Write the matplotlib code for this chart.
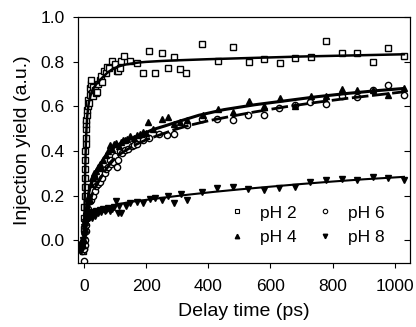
import matplotlib
matplotlib.use('Agg')
import matplotlib.pyplot as plt
from matplotlib.lines import Line2D

plt.rcParams['font.family'] = ['Liberation Sans', 'DejaVu Sans']

# measured points (delay time in ps, injection yield in a.u.)
t_ph2 = [-10, -6, -3, -1, 0, 0.5, 1, 1.5, 2, 2.5, 3, 3.5, 4, 4.5, 5, 5.5, 6, 7, 8, 9,
         10, 12, 14, 16, 18, 20, 22, 24, 26, 28, 30, 34, 38, 42, 46, 50, 54, 58, 64, 70,
         74, 80, 90, 99, 106, 110, 115, 119, 128, 148, 169, 190, 209, 230, 250, 269, 289, 309, 328, 380,
         430, 480, 530, 580, 630, 680, 730, 780, 830, 880, 930, 980, 1030]
y_ph2 = [-0.02, -0.04, -0.05, -0.03, 0.0, 0.05, 0.1, 0.15, 0.2, 0.24, 0.28, 0.32, 0.36, 0.40, 0.43, 0.46, 0.50, 0.52, 0.54, 0.56,
         0.585, 0.6, 0.629, 0.615, 0.68, 0.65, 0.70, 0.716, 0.66, 0.686, 0.644, 0.674, 0.66, 0.662, 0.70, 0.72, 0.737, 0.71, 0.76, 0.75,
         0.774, 0.77, 0.805, 0.789, 0.76, 0.76, 0.771, 0.805, 0.826, 0.804, 0.793, 0.75, 0.848, 0.749, 0.839, 0.771, 0.823, 0.765, 0.747, 0.879,
         0.805, 0.867, 0.80, 0.814, 0.796, 0.816, 0.823, 0.892, 0.841, 0.838, 0.80, 0.86, 0.826]

t_ph4 = [-10, -5, -2, 0, 2, 4, 6, 8, 10, 13, 16, 18, 22, 26, 29, 31, 35, 40, 45, 50,
         56, 62, 70, 77, 83, 90, 97, 104, 112, 120, 126, 131, 140, 147, 160, 169, 180, 190, 201, 206,
         222, 250, 271, 290, 310, 330, 382, 430, 480, 530, 580, 630, 680, 730, 780, 830, 880, 930, 980, 1030]
y_ph4 = [-0.01, 0.0, -0.02, 0.0, 0.05, 0.08, 0.11, 0.13, 0.15, 0.19, 0.2, 0.18, 0.25, 0.28, 0.28, 0.3, 0.29, 0.31, 0.33, 0.34,
         0.325, 0.36, 0.38, 0.4, 0.425, 0.41, 0.43, 0.436, 0.42, 0.44, 0.45, 0.45, 0.455, 0.466, 0.46, 0.47, 0.475, 0.485, 0.48, 0.528,
         0.5, 0.545, 0.55, 0.52, 0.53, 0.54, 0.562, 0.59, 0.575, 0.625, 0.6, 0.637, 0.6, 0.644, 0.645, 0.678, 0.674, 0.672, 0.649, 0.684]

t_ph6 = [-10, -5, -1, 0, 2, 4, 6, 8, 10, 14, 18, 22, 29, 34, 40, 45, 50, 58, 67, 72,
         77, 83, 88, 94, 99, 105, 110, 115, 122, 131, 142, 153, 160, 169, 190, 210, 240, 266, 289, 330,
         379, 429, 479, 529, 579, 629, 680, 729, 780, 830, 880, 930, 980, 1030]
y_ph6 = [-0.03, -0.05, -0.092, -0.04, -0.02, 0.0, 0.04, 0.07, 0.1, 0.14, 0.175, 0.18, 0.2, 0.22, 0.243, 0.25, 0.26, 0.28, 0.3, 0.32,
         0.33, 0.36, 0.34, 0.35, 0.376, 0.33, 0.36, 0.4, 0.39, 0.406, 0.41, 0.42, 0.425, 0.43, 0.45, 0.46, 0.475, 0.473, 0.474, 0.518,
         0.543, 0.545, 0.54, 0.56, 0.559, 0.592, 0.605, 0.62, 0.611, 0.647, 0.643, 0.672, 0.696, 0.649]

t_ph8 = [-15, -10, -6, -3, -1, 0, 1, 2, 3, 4, 5, 6, 8, 10, 12, 15, 18, 21, 25, 30,
         35, 40, 45, 50, 55, 60, 66, 72, 78, 84, 90, 96, 102, 108, 114, 120, 135, 147, 169, 190,
         212, 228, 250, 271, 289, 311, 330, 379, 429, 479, 529, 579, 629, 680, 729, 780, 830, 880, 930, 980, 1030]
y_ph8 = [-0.02, -0.05, -0.03, 0.0, 0.02, 0.03, 0.06, 0.04, 0.08, 0.07, 0.1, 0.08, 0.11, 0.09, 0.12, 0.1, 0.11, 0.12, 0.1, 0.125,
         0.11, 0.13, 0.12, 0.135, 0.125, 0.14, 0.13, 0.135, 0.145, 0.13, 0.14, 0.15, 0.175, 0.123, 0.155, 0.12, 0.155, 0.168, 0.171, 0.165,
         0.183, 0.1875, 0.18, 0.198, 0.168, 0.205, 0.18, 0.216, 0.232, 0.24, 0.228, 0.225, 0.232, 0.24, 0.26, 0.269, 0.275, 0.269, 0.284, 0.277, 0.272]

# fitted curves
tf_ph2 = [-10, 0, 1, 2, 3, 4, 5, 6, 8, 10, 13, 16, 20, 25, 30, 40, 50, 60, 75, 90,
          110, 130, 150, 175, 200, 250, 300, 400, 500, 600, 700, 800, 900, 1030]
yf_ph2 = [-0.03, -0.02, 0.08, 0.17, 0.25, 0.32, 0.38, 0.43, 0.5, 0.55, 0.59, 0.62, 0.645, 0.665, 0.68, 0.7, 0.715, 0.73, 0.75, 0.765,
          0.778, 0.786, 0.791, 0.796, 0.799, 0.803, 0.806, 0.811, 0.815, 0.819, 0.823, 0.826, 0.829, 0.833]

tf_ph4 = [-10, 0, 2, 5, 10, 15, 20, 30, 40, 50, 65, 80, 100, 120, 150, 180, 220, 260, 300, 370,
          450, 550, 650, 750, 850, 950, 1030]
yf_ph4 = [-0.02, -0.01, 0.03, 0.09, 0.16, 0.21, 0.24, 0.28, 0.31, 0.335, 0.37, 0.395, 0.42, 0.435, 0.455, 0.47, 0.495, 0.512, 0.53, 0.56,
          0.585, 0.607, 0.625, 0.643, 0.658, 0.671, 0.68]

tf_ph6 = [-10, 0, 2, 5, 10, 18, 30, 40, 50, 65, 80, 95, 115, 137, 169, 200, 250, 290, 340, 400,
          480, 550, 650, 750, 850, 950, 1030]
yf_ph6 = [-0.03, -0.02, 0.0, 0.04, 0.1, 0.17, 0.22, 0.245, 0.27, 0.305, 0.335, 0.36, 0.385, 0.405, 0.43, 0.45, 0.475, 0.495, 0.515, 0.535,
          0.557, 0.575, 0.598, 0.618, 0.636, 0.652, 0.665]

tf_ph8 = [-10, 0, 3, 6, 10, 18, 30, 50, 75, 104, 150, 212, 280, 341, 420, 502, 600, 700, 800, 900, 1030]
yf_ph8 = [-0.01, 0.0, 0.04, 0.07, 0.09, 0.108, 0.12, 0.135, 0.148, 0.16, 0.172, 0.183, 0.195, 0.205, 0.217, 0.228, 0.24, 0.252, 0.263, 0.273, 0.284]

fig = plt.figure(figsize=(4.16, 3.27), dpi=100)
ax = fig.add_axes([0.187, 0.197, 0.799, 0.751])

ms = 4.5
ax.plot(t_ph2, y_ph2, 's', ms=ms, mfc='white', mec='black', mew=1.0, ls='none')
ax.plot(t_ph6, y_ph6, 'o', ms=ms, mfc='white', mec='black', mew=1.0, ls='none')
ax.plot(t_ph4, y_ph4, '^', ms=ms, mfc='black', mec='black', ls='none')
ax.plot(t_ph8, y_ph8, 'v', ms=ms, mfc='black', mec='black', ls='none')

ax.plot(tf_ph2, yf_ph2, '-', color='black', lw=1.8)
ax.plot(tf_ph4, yf_ph4, '-', color='black', lw=2.2)
ax.plot(tf_ph6, yf_ph6, color='black', lw=2.0, dashes=(6, 1.3))
ax.plot(tf_ph8, yf_ph8, '-', color='black', lw=1.5)

ax.set_xlim(-20, 1050)
ax.set_ylim(-0.1, 1.0)
ax.set_xticks([0, 200, 400, 600, 800, 1000])
ax.set_yticks([0.0, 0.2, 0.4, 0.6, 0.8, 1.0])
ax.yaxis.set_major_formatter(matplotlib.ticker.FormatStrFormatter('%.1f'))
ax.tick_params(axis='both', direction='out', length=3.5, labelsize=12.5, pad=6)
ax.tick_params(axis='x', pad=8)
ax.set_xlabel('Delay time (ps)', fontsize=14, labelpad=7)
ax.set_ylabel('Injection yield (a.u.)', fontsize=14, labelpad=7)

# inward ticks on the right spine
ax2 = ax.twinx()
ax2.set_ylim(ax.get_ylim())
ax2.set_yticks([0.0, 0.2, 0.4, 0.6, 0.8, 1.0])
ax2.tick_params(axis='y', direction='in', length=4, labelright=False)

handles = [
    Line2D([], [], marker='s', ms=3.2, mfc='white', mec='black', mew=0.8, ls='none'),
    Line2D([], [], marker='^', ms=3.2, mfc='black', mec='black', ls='none'),
    Line2D([], [], marker='o', ms=3.2, mfc='white', mec='black', mew=0.8, ls='none'),
    Line2D([], [], marker='v', ms=3.2, mfc='black', mec='black', ls='none'),
]
ax.legend(handles, ['pH 2', 'pH 4', 'pH 6', 'pH 8'], ncol=2, frameon=False,
          loc='lower right', bbox_to_anchor=(0.97, 0.007), fontsize=12.5,
          handlelength=1.0, handletextpad=0.85, columnspacing=1.1, labelspacing=0.55)

fig.savefig('out.png', dpi=100)
